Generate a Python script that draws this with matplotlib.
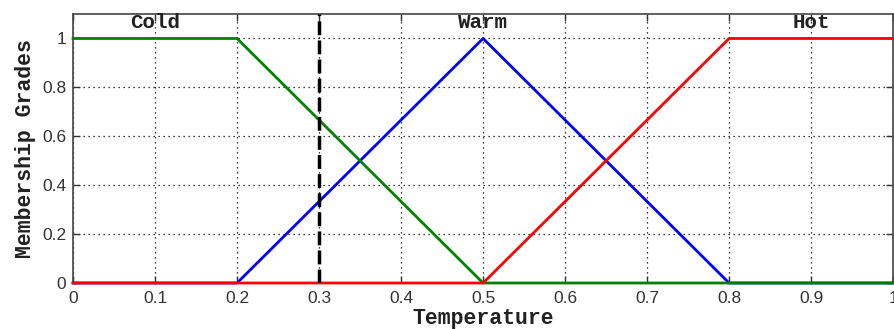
import numpy as np
import matplotlib
matplotlib.use('Agg')
import matplotlib.pyplot as plt

# membership functions (breakpoints)
cold_x = [0, 0.2, 0.5, 1.0]
cold_y = [1, 1, 0, 0]
warm_x = [0, 0.2, 0.5, 0.8, 1.0]
warm_y = [0, 0, 1, 0, 0]
hot_x = [0, 0.5, 0.8, 1.0]
hot_y = [0, 0, 1, 1]

labels = ['Cold', 'Warm', 'Hot']
label_x = [0.1, 0.5, 0.9]
label_y = 1.065
input_temp = 0.3

xticks = np.round(np.arange(0, 1.01, 0.1), 1)
xticklabels = ['0', '0.1', '0.2', '0.3', '0.4', '0.5', '0.6', '0.7', '0.8', '0.9', '1']
yticks = [0, 0.2, 0.4, 0.6, 0.8, 1]
yticklabels = ['0', '0.2', '0.4', '0.6', '0.8', '1']

mono = 'Liberation Mono'
sans = 'Liberation Sans'

fig = plt.figure(figsize=(8.94, 3.29), dpi=100)
ax = fig.add_axes([0.0817, 0.1398, 0.9173, 0.8176])

ax.plot(warm_x, warm_y, color='#0000ff', lw=2, zorder=3, clip_on=False)
ax.plot(cold_x, cold_y, color='#008000', lw=2, zorder=3, clip_on=False)
ax.plot(hot_x, hot_y, color='#ff0000', lw=2, zorder=3, clip_on=False)
ax.axvline(input_temp, color='black', lw=2.5, ls=(0, (4, 1.5)), zorder=3)

for t, lx in zip(labels, label_x):
    ax.text(lx, label_y, t, ha='center', va='center', family=mono,
            fontweight='bold', fontsize=15, color='#222222')

ax.set_xlim(0, 1)
ax.set_ylim(0, 1.1)
ax.set_xticks(xticks)
ax.set_xticklabels(xticklabels, family=sans, fontsize=12.5, color='#333333')
ax.set_yticks(yticks)
ax.set_yticklabels(yticklabels, family=sans, fontsize=12.5, color='#333333')
ax.tick_params(direction='in', top=True, right=True, length=5, width=1, color='#333333')
ax.tick_params(axis='x', pad=6)
ax.tick_params(axis='y', pad=5)
ax.grid(True, color='black', ls=(0, (1, 3)), lw=0.9)
for s in ax.spines.values():
    s.set_color('#444444')
    s.set_linewidth(1.2)

ax.set_xlabel('Temperature', family=mono, fontweight='bold', fontsize=15.5, color='#222222', labelpad=1)
ax.set_ylabel('Membership Grades', family=mono, fontweight='bold', fontsize=15.5, color='#222222', labelpad=4)

fig.savefig('out.png', dpi=100)
